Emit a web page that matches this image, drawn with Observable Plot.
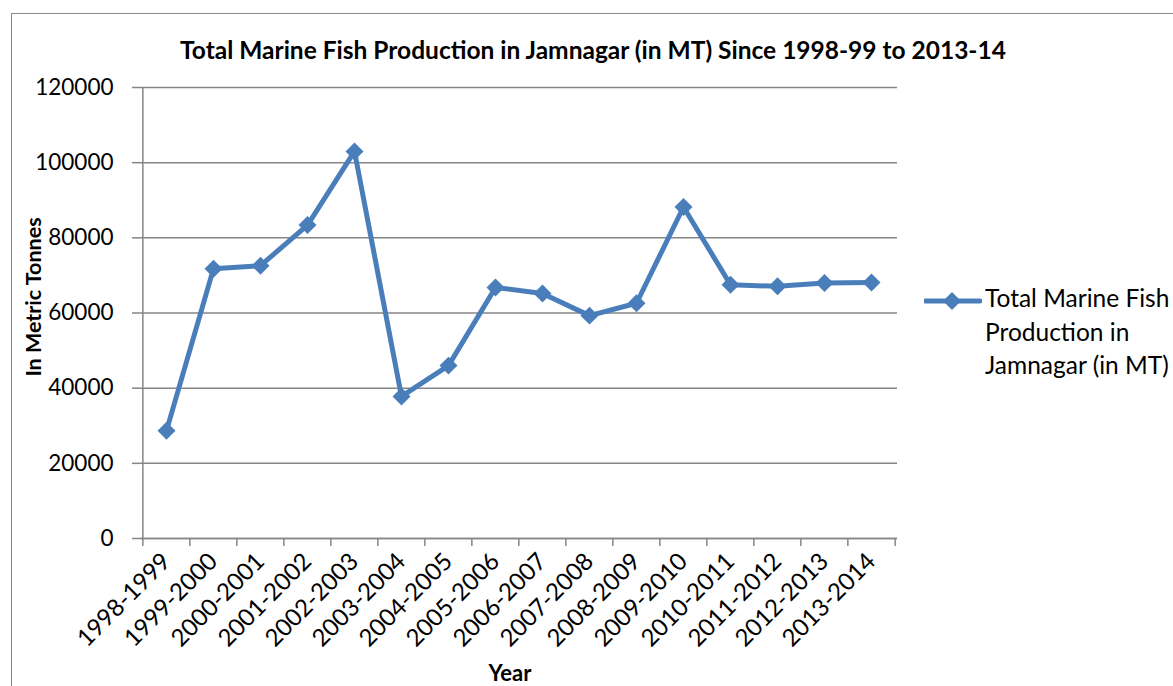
<!DOCTYPE html>
<html>
<head>
<meta charset="utf-8">
<script src="https://cdn.jsdelivr.net/npm/d3@7"></script>
<script src="https://cdn.jsdelivr.net/npm/@observablehq/plot@0.6"></script>
<style>
  html, body { margin: 0; padding: 0; background: #fff; }
  #chart { position: relative; width: 1173px; height: 686px; overflow: hidden; font-family: Lato, "Open Sans", sans-serif; color: #000; }
  #frame { position: absolute; left: 11px; top: 13px; width: 1400px; height: 900px; border-left: 1.5px solid #8a8a8a; border-top: 1.5px solid #8a8a8a; }
  #plot { position: absolute; left: 0; top: 0; }
  .title { position: absolute; left: 593px; top: 49px; transform: translate(-50%, -50%); font-weight: 700; font-size: 24.5px; white-space: nowrap; }
  .ylab { position: absolute; left: 33px; top: 297px; transform: translate(-50%, -50%) rotate(-90deg); font-weight: 700; font-size: 21.5px; white-space: nowrap; }
  .xlab { position: absolute; left: 510px; top: 672px; transform: translate(-50%, -50%); font-weight: 700; font-size: 22px; white-space: nowrap; }
  .legend { position: absolute; left: 924px; top: 282px; display: flex; align-items: flex-start; }
  .legend svg { margin-top: 4px; }
  .legend .txt { font-size: 24.5px; line-height: 33.5px; white-space: nowrap; margin-left: 3px; margin-top: -1px; }
</style>
</head>
<body>
<div id="chart">
  <div id="frame"></div>
  <div id="plot"></div>
  <div class="title">Total Marine Fish Production in Jamnagar (in MT) Since 1998-99 to 2013-14</div>
  <div class="ylab">In Metric Tonnes</div>
  <div class="xlab">Year</div>
  <div class="legend">
    <svg width="58" height="30" viewBox="0 0 58 30">
      <line x1="1" y1="15" x2="56" y2="15" stroke="#4A7EBB" stroke-width="5" stroke-linecap="round"></line>
      <path d="M28,6 L37,15 L28,24 L19,15 Z" fill="#4A7EBB"></path>
    </svg>
    <div class="txt">Total Marine Fish<br>Production in<br>Jamnagar (in MT)</div>
  </div>
</div>
<script>
// Fiscal years on the category axis
const years = [
  "1998-1999", "1999-2000", "2000-2001", "2001-2002", "2002-2003", "2003-2004",
  "2004-2005", "2005-2006", "2006-2007", "2007-2008", "2008-2009", "2009-2010",
  "2010-2011", "2011-2012", "2012-2013", "2013-2014"
];

// Total marine fish production, metric tonnes
const production = [
  28700, 71800, 72600, 83400, 103000, 37800, 46000, 66800,
  65200, 59300, 62600, 88200, 67500, 67100, 68000, 68100
];

// Value-axis ticks
const yTicks = [0, 20000, 40000, 60000, 80000, 100000, 120000];

const rows = years.map((year, i) => ({year, value: production[i]}));

const W = 1173, H = 686;
const mL = 140, mR = 276, mT = 87, mB = 148;
const step = (W - mL - mR) / years.length;
const blue = "#4A7EBB";
const gray = "#868686";

const chart = Plot.plot({
  width: W,
  height: H,
  marginLeft: mL,
  marginRight: mR,
  marginTop: mT,
  marginBottom: mB,
  style: {fontFamily: "Lato, 'Open Sans', sans-serif", fontSize: "22.5px", color: "#000", background: "transparent", overflow: "visible"},
  x: {type: "point", domain: years, padding: 0.5, label: null},
  y: {domain: [0, 120000], label: null},
  marks: [
    Plot.gridY(yTicks, {stroke: gray, strokeOpacity: 1, strokeWidth: 1.5}),
    Plot.ruleX([years[0]], {dx: -step / 2, stroke: gray, strokeWidth: 1.5}),
    Plot.ruleY([0], {stroke: gray, strokeWidth: 1.5}),
    Plot.axisY({ticks: yTicks, tickSize: 8, tickPadding: 19, tickFormat: d => String(d), stroke: gray, strokeWidth: 1.5, label: null}),
    // boundary tick marks between categories
    Plot.axisX({ticks: years, tickSize: 8, dx: -step / 2, tickFormat: () => "", stroke: gray, strokeWidth: 1.5, label: null}),
    Plot.axisX({ticks: [years[years.length - 1]], tickSize: 8, dx: step / 2, tickFormat: () => "", stroke: gray, strokeWidth: 1.5, label: null}),
    // rotated category labels
    Plot.axisX({ticks: years, tickSize: 0, tickPadding: 19, tickRotate: -45, fontSize: 24, label: null}),
    Plot.line(rows, {x: "year", y: "value", stroke: blue, strokeWidth: 5, strokeLinejoin: "round"}),
    Plot.dot(rows, {x: "year", y: "value", symbol: "diamond2", r: 8.1, fill: blue, stroke: "none"})
  ]
});
document.getElementById("plot").appendChild(chart);
</script>
</body>
</html>
